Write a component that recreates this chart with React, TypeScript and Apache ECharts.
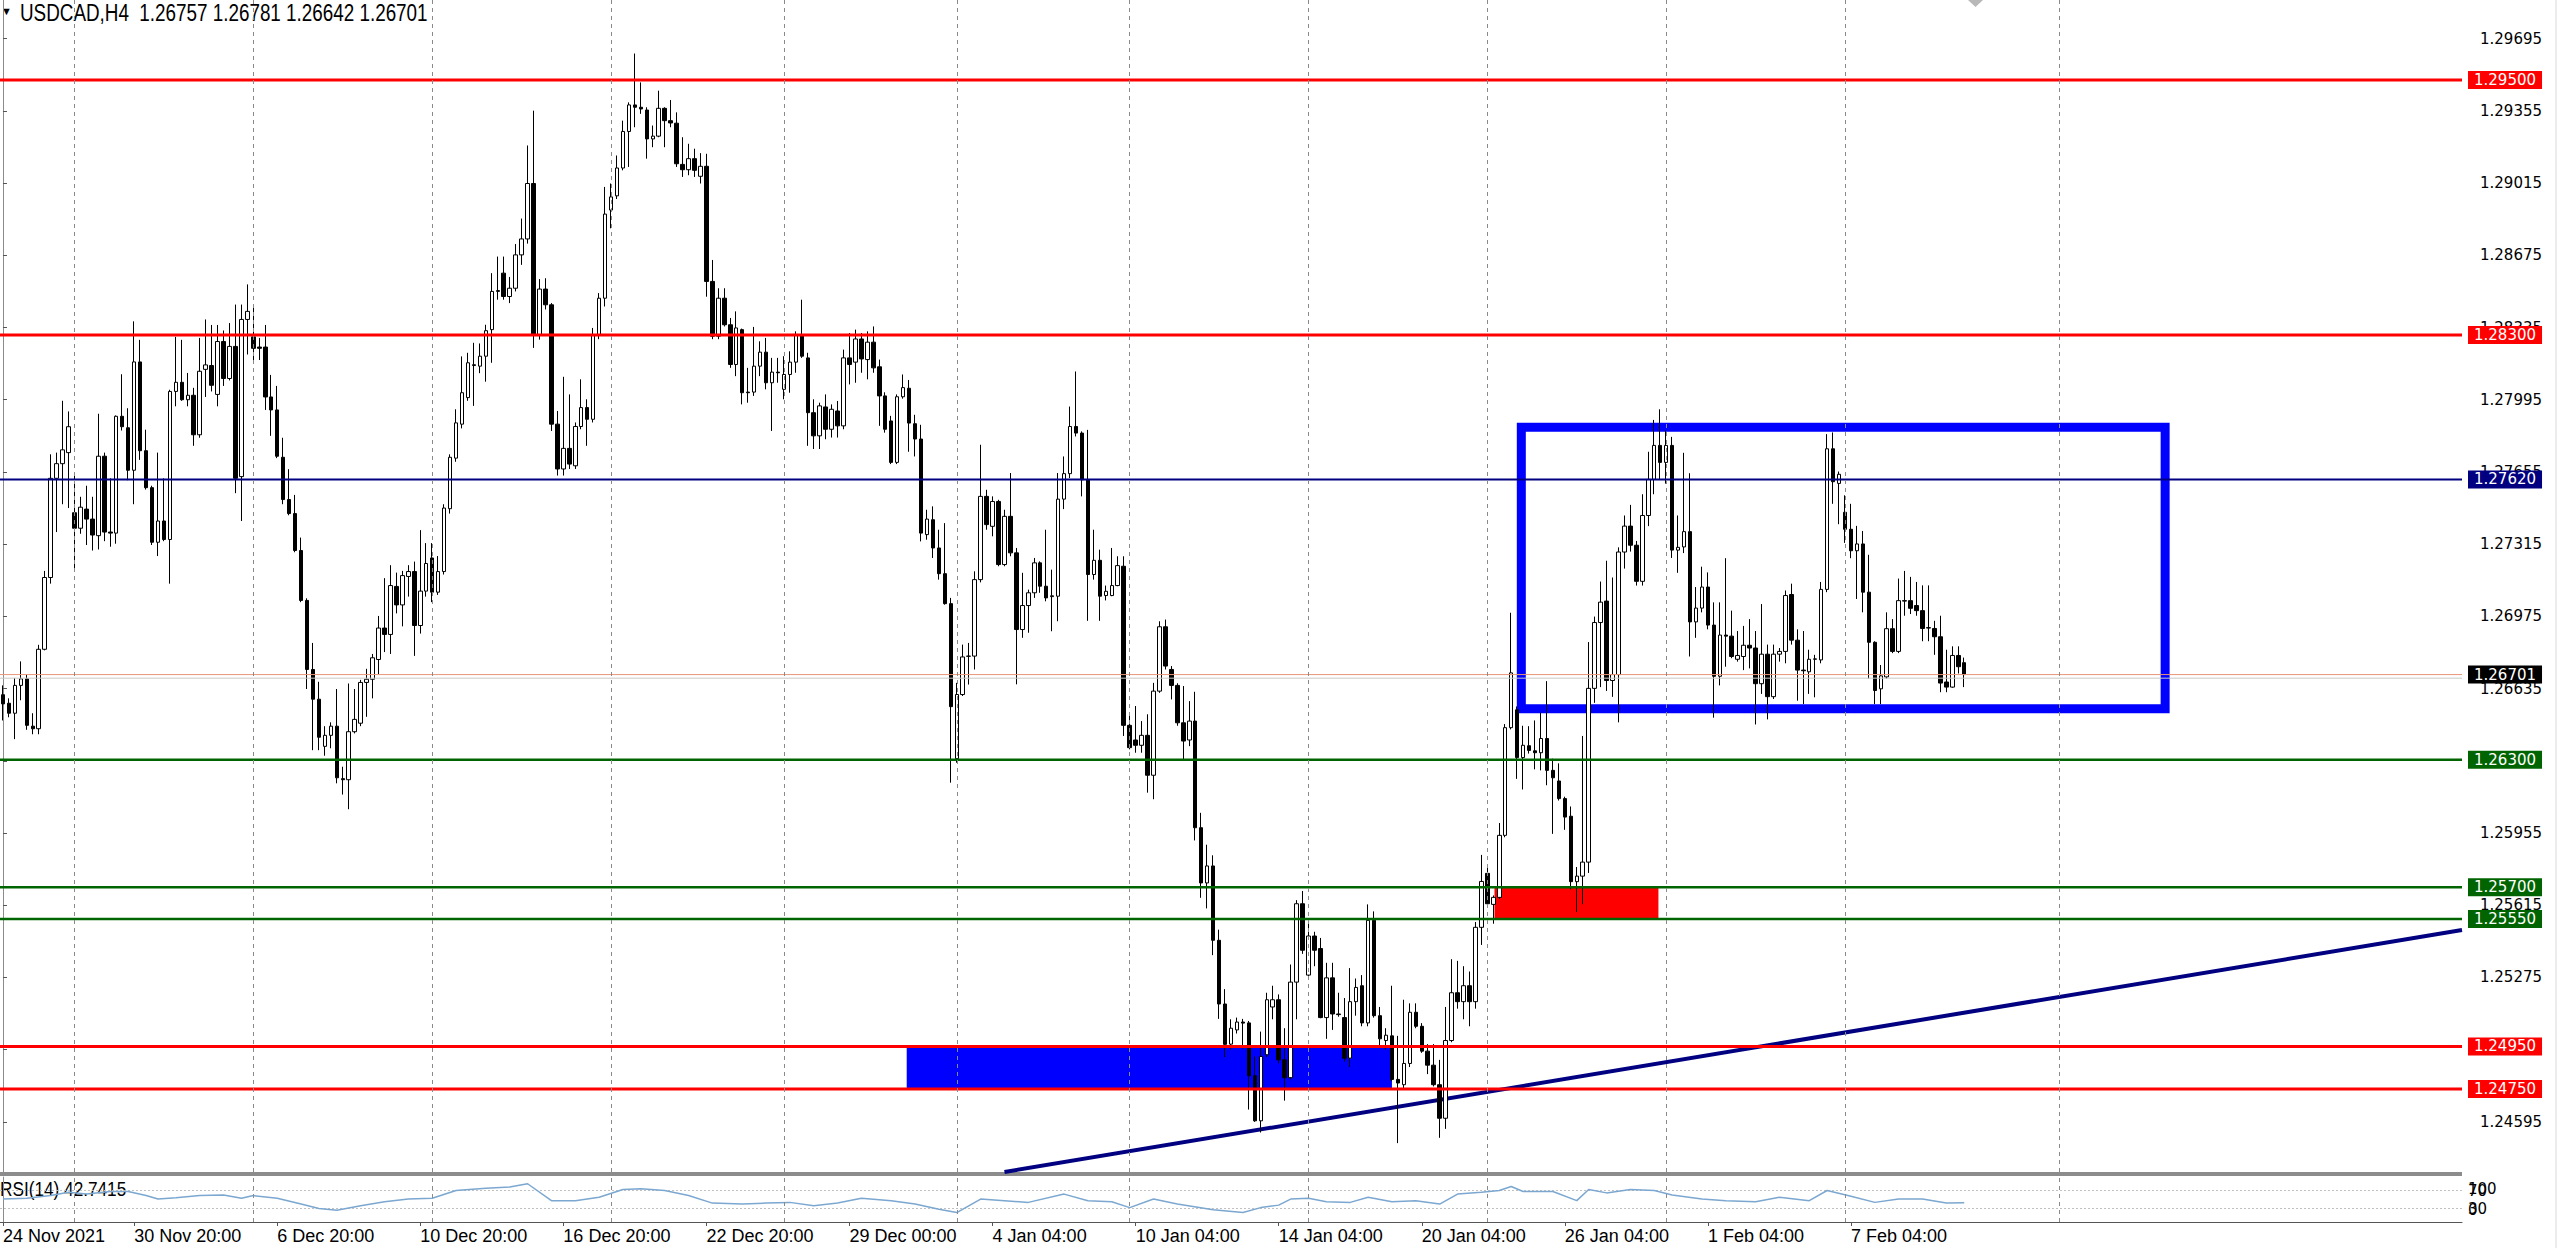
import React, { useEffect, useRef } from 'react';
import * as echarts from 'echarts';

// ---------- DATA ----------
const opens = [
  1.26606, 1.26566, 1.26519, 1.26650, 1.26681, 1.26458, 1.26446, 1.26820, 1.27158, 1.27625,
  1.27694, 1.27746, 1.27463, 1.27390, 1.27480, 1.27433, 1.27355, 1.27729, 1.27372, 1.27367,
  1.27917, 1.27863, 1.27663, 1.28173, 1.27755, 1.27581, 1.27324, 1.27424, 1.27337, 1.28034,
  1.28077, 1.27995, 1.28016, 1.27830, 1.28138, 1.28156, 1.28020, 1.28269, 1.28095, 1.28246,
  1.27633, 1.28373, 1.28291, 1.28243, 1.28243, 1.28008, 1.27947, 1.27724, 1.27525, 1.27459,
  1.27285, 1.27050, 1.26725, 1.26585, 1.26363, 1.26415, 1.26458, 1.26211, 1.26206, 1.26432,
  1.26472, 1.26664, 1.26679, 1.26772, 1.26920, 1.26890, 1.27116, 1.27029, 1.27163, 1.27186,
  1.26932, 1.27094, 1.27250, 1.27089, 1.27186, 1.27482, 1.27720, 1.27880, 1.28005, 1.28156,
  1.28153, 1.28200, 1.28325, 1.28505, 1.28591, 1.28481, 1.28520, 1.28677, 1.28752, 1.29013,
  1.28302, 1.28516, 1.28442, 1.27880, 1.27669, 1.27766, 1.27684, 1.27869, 1.27958, 1.27903,
  1.28302, 1.28473, 1.28888, 1.28955, 1.29086, 1.29258, 1.29383, 1.29372, 1.29359, 1.29223,
  1.29236, 1.29367, 1.29309, 1.29297, 1.29103, 1.29078, 1.29130, 1.29047, 1.29094, 1.28552,
  1.28294, 1.28473, 1.28348, 1.28161, 1.28325, 1.28031, 1.28031, 1.28153, 1.28219, 1.28075,
  1.28125, 1.28044, 1.28114, 1.28172, 1.28302, 1.28192, 1.27934, 1.27825, 1.27961, 1.27856,
  1.27942, 1.27872, 1.28192, 1.28172, 1.28281, 1.28184, 1.28266, 1.28150, 1.28013, 1.27895,
  1.27700, 1.28009, 1.28049, 1.27882, 1.27810, 1.27360, 1.27430, 1.27297, 1.27176, 1.27035,
  1.26305, 1.26607, 1.26787, 1.26788, 1.27148, 1.27540, 1.27399, 1.27516, 1.27219, 1.27446,
  1.27274, 1.26913, 1.27026, 1.27086, 1.27227, 1.27117, 1.27068, 1.27070, 1.27527, 1.27647,
  1.27869, 1.27838, 1.27618, 1.27172, 1.27239, 1.27073, 1.27073, 1.27120, 1.27211, 1.26462,
  1.26393, 1.26368, 1.26415, 1.26227, 1.26623, 1.26926, 1.26725, 1.26650, 1.26474, 1.26393,
  1.26482, 1.25980, 1.25720, 1.25800, 1.25450, 1.25150, 1.24961, 1.25028, 1.25065, 1.25061,
  1.24812, 1.24600, 1.24911, 1.25136, 1.25170, 1.24887, 1.24803, 1.25253, 1.25622, 1.25286,
  1.25470, 1.25411, 1.25086, 1.25273, 1.25103, 1.25086, 1.24895, 1.25161, 1.25236, 1.25061,
  1.25544, 1.25095, 1.24978, 1.25000, 1.24795, 1.24770, 1.24870, 1.25111, 1.25045, 1.24928,
  1.24862, 1.24770, 1.24612, 1.24978, 1.25203, 1.25161, 1.25236, 1.25161, 1.25511, 1.25765,
  1.25619, 1.25652, 1.25944, 1.26451, 1.26535, 1.26310, 1.26366, 1.26342, 1.26333, 1.26400,
  1.26250, 1.26200, 1.26117, 1.26034, 1.25726, 1.25752, 1.25818, 1.26636, 1.26946, 1.27047,
  1.26673, 1.26701, 1.27278, 1.27400, 1.27310, 1.27140, 1.27450, 1.27620, 1.27780, 1.27700,
  1.27780, 1.27287, 1.27302, 1.27374, 1.26949, 1.27014, 1.27113, 1.26934, 1.26693, 1.26887,
  1.26882, 1.26773, 1.26786, 1.26839, 1.26826, 1.26658, 1.26797, 1.26597, 1.26797, 1.26810,
  1.27078, 1.26863, 1.26722, 1.26714, 1.26773, 1.26770, 1.27102, 1.27764, 1.27601, 1.27465,
  1.27385, 1.27284, 1.27316, 1.27089, 1.26853, 1.26634, 1.26690, 1.26917, 1.26810, 1.27049,
  1.27049, 1.27026, 1.27002, 1.26922, 1.26918, 1.26879, 1.26666, 1.26642, 1.26791, 1.26757,
];

const closes = [
  1.26563, 1.26519, 1.26650, 1.26681, 1.26462, 1.26446, 1.26820, 1.27158, 1.27625, 1.27694,
  1.27759, 1.27868, 1.27390, 1.27489, 1.27433, 1.27358, 1.27729, 1.27372, 1.27367, 1.27917,
  1.27868, 1.27663, 1.28173, 1.27755, 1.27581, 1.27324, 1.27424, 1.27337, 1.28034, 1.28077,
  1.27995, 1.28016, 1.27830, 1.28129, 1.28159, 1.28063, 1.28269, 1.28095, 1.28246, 1.27625,
  1.28373, 1.28411, 1.28237, 1.28237, 1.28008, 1.27947, 1.27729, 1.27525, 1.27459, 1.27285,
  1.27050, 1.26725, 1.26585, 1.26406, 1.26415, 1.26458, 1.26215, 1.26206, 1.26432, 1.26490,
  1.26664, 1.26679, 1.26780, 1.26920, 1.26890, 1.27120, 1.27029, 1.27167, 1.27186, 1.26932,
  1.27094, 1.27224, 1.27089, 1.27186, 1.27485, 1.27724, 1.27886, 1.28028, 1.28169, 1.28160,
  1.28200, 1.28320, 1.28505, 1.28509, 1.28481, 1.28520, 1.28677, 1.28752, 1.29013, 1.28302,
  1.28516, 1.28442, 1.27880, 1.27669, 1.27766, 1.27692, 1.27869, 1.27958, 1.27903, 1.28302,
  1.28473, 1.28869, 1.28950, 1.29086, 1.29258, 1.29383, 1.29372, 1.29364, 1.29223, 1.29236,
  1.29367, 1.29309, 1.29298, 1.29106, 1.29078, 1.29130, 1.29075, 1.29094, 1.28552, 1.28294,
  1.28473, 1.28348, 1.28161, 1.28333, 1.28028, 1.28028, 1.28153, 1.28219, 1.28075, 1.28125,
  1.28122, 1.28114, 1.28172, 1.28302, 1.28200, 1.27934, 1.27825, 1.27966, 1.27856, 1.27950,
  1.27872, 1.28192, 1.28161, 1.28281, 1.28187, 1.28266, 1.28145, 1.28013, 1.27856, 1.27700,
  1.28009, 1.28052, 1.27885, 1.27810, 1.27367, 1.27433, 1.27297, 1.27176, 1.27035, 1.26550,
  1.26607, 1.26784, 1.26788, 1.27148, 1.27540, 1.27407, 1.27516, 1.27219, 1.27446, 1.27274,
  1.26913, 1.27026, 1.27086, 1.27227, 1.27117, 1.27062, 1.27072, 1.27527, 1.27647, 1.27869,
  1.27838, 1.27618, 1.27172, 1.27239, 1.27070, 1.27093, 1.27120, 1.27214, 1.26462, 1.26357,
  1.26368, 1.26415, 1.26227, 1.26623, 1.26926, 1.26741, 1.26650, 1.26474, 1.26388, 1.26482,
  1.25980, 1.25720, 1.25800, 1.25450, 1.25150, 1.24960, 1.25036, 1.25065, 1.25060, 1.24812,
  1.24600, 1.24903, 1.25170, 1.25170, 1.24887, 1.24803, 1.25253, 1.25622, 1.25403, 1.25470,
  1.25403, 1.25086, 1.25273, 1.25103, 1.25100, 1.24895, 1.25161, 1.25228, 1.25061, 1.25544,
  1.25095, 1.24986, 1.25003, 1.24795, 1.24778, 1.24870, 1.25111, 1.25045, 1.24928, 1.24862,
  1.24770, 1.24612, 1.24978, 1.25203, 1.25161, 1.25236, 1.25161, 1.25511, 1.25727, 1.25622,
  1.25652, 1.25944, 1.26451, 1.26709, 1.26310, 1.26368, 1.26344, 1.26333, 1.26400, 1.26250,
  1.26215, 1.26117, 1.26030, 1.25726, 1.25752, 1.25818, 1.26636, 1.26946, 1.27042, 1.26673,
  1.26701, 1.27278, 1.27400, 1.27310, 1.27140, 1.27450, 1.27620, 1.27780, 1.27700, 1.27780,
  1.27287, 1.27300, 1.27374, 1.26949, 1.27014, 1.27113, 1.26934, 1.26693, 1.26887, 1.26882,
  1.26786, 1.26791, 1.26839, 1.26826, 1.26658, 1.26797, 1.26597, 1.26797, 1.26810, 1.27073,
  1.26863, 1.26722, 1.26719, 1.26773, 1.26775, 1.27102, 1.27764, 1.27609, 1.27644, 1.27385,
  1.27284, 1.27316, 1.27089, 1.26853, 1.26626, 1.26695, 1.26917, 1.26810, 1.27049, 1.27047,
  1.27013, 1.27002, 1.26918, 1.26920, 1.26879, 1.26661, 1.26642, 1.26791, 1.26738, 1.26701,
];

const highs = [
  1.26650, 1.26589, 1.26685, 1.26763, 1.26700, 1.26519, 1.26841, 1.27189, 1.27738, 1.27746,
  1.27990, 1.27940, 1.27642, 1.27538, 1.27590, 1.27538, 1.27929, 1.27746, 1.27625, 1.27921,
  1.28115, 1.27955, 1.28364, 1.28277, 1.27854, 1.27590, 1.27746, 1.27625, 1.28042, 1.28291,
  1.28277, 1.28121, 1.28051, 1.28286, 1.28373, 1.28347, 1.28347, 1.28321, 1.28356, 1.28443,
  1.28443, 1.28538, 1.28434, 1.28286, 1.28347, 1.28112, 1.28060, 1.27816, 1.27668, 1.27547,
  1.27346, 1.27060, 1.26850, 1.26667, 1.26458, 1.26476, 1.26633, 1.26267, 1.26659, 1.26633,
  1.26676, 1.26728, 1.26798, 1.26977, 1.27155, 1.27216, 1.27181, 1.27189, 1.27216, 1.27233,
  1.27381, 1.27320, 1.27320, 1.27259, 1.27503, 1.27738, 1.27950, 1.28199, 1.28216, 1.28263,
  1.28260, 1.28348, 1.28591, 1.28669, 1.28669, 1.28573, 1.28728, 1.28848, 1.29192, 1.29356,
  1.28563, 1.28567, 1.28450, 1.27942, 1.28103, 1.28020, 1.27888, 1.28091, 1.27997, 1.28333,
  1.28497, 1.28997, 1.29013, 1.29145, 1.29309, 1.29395, 1.29625, 1.29489, 1.29372, 1.29286,
  1.29450, 1.29372, 1.29406, 1.29348, 1.29231, 1.29200, 1.29177, 1.29156, 1.29153, 1.28653,
  1.28520, 1.28520, 1.28380, 1.28411, 1.28330, 1.28145, 1.28338, 1.28270, 1.28286, 1.28192,
  1.28192, 1.28200, 1.28223, 1.28317, 1.28466, 1.28216, 1.27997, 1.27981, 1.28020, 1.27973,
  1.27989, 1.28231, 1.28309, 1.28325, 1.28309, 1.28317, 1.28340, 1.28184, 1.28030, 1.27919,
  1.28020, 1.28114, 1.28088, 1.27924, 1.27877, 1.27477, 1.27493, 1.27383, 1.27414, 1.27062,
  1.26662, 1.26842, 1.26850, 1.27187, 1.27783, 1.27571, 1.27540, 1.27524, 1.27477, 1.27650,
  1.27297, 1.27180, 1.27101, 1.27250, 1.27234, 1.27383, 1.27195, 1.27650, 1.27728, 1.27963,
  1.28128, 1.27846, 1.27853, 1.27383, 1.27289, 1.27120, 1.27297, 1.27258, 1.27258, 1.26506,
  1.26553, 1.26482, 1.26514, 1.26662, 1.26952, 1.26960, 1.26741, 1.26660, 1.26647, 1.26576,
  1.26620, 1.26050, 1.25900, 1.25850, 1.25500, 1.25220, 1.25078, 1.25086, 1.25080, 1.25070,
  1.24903, 1.25020, 1.25203, 1.25236, 1.25195, 1.25036, 1.25336, 1.25639, 1.25682, 1.25536,
  1.25490, 1.25461, 1.25344, 1.25344, 1.25203, 1.25178, 1.25319, 1.25270, 1.25286, 1.25619,
  1.25586, 1.25136, 1.25036, 1.25236, 1.25000, 1.25170, 1.25153, 1.25153, 1.25060, 1.24961,
  1.24961, 1.24887, 1.25136, 1.25361, 1.25353, 1.25328, 1.25303, 1.25536, 1.25852, 1.25794,
  1.25661, 1.26002, 1.26468, 1.26992, 1.26551, 1.26460, 1.26458, 1.26485, 1.26522, 1.26670,
  1.26305, 1.26283, 1.26126, 1.26080, 1.25795, 1.26412, 1.26854, 1.26974, 1.27139, 1.27237,
  1.27158, 1.27300, 1.27450, 1.27500, 1.27330, 1.27550, 1.27750, 1.27900, 1.27950, 1.27850,
  1.27820, 1.27450, 1.27745, 1.27649, 1.27113, 1.27209, 1.27182, 1.27041, 1.27041, 1.27249,
  1.27002, 1.26906, 1.26930, 1.26962, 1.26906, 1.27033, 1.26842, 1.26842, 1.26826, 1.27097,
  1.27129, 1.26914, 1.26906, 1.26818, 1.26794, 1.27137, 1.27833, 1.27841, 1.27657, 1.27545,
  1.27505, 1.27401, 1.27377, 1.27265, 1.26858, 1.26746, 1.26994, 1.26962, 1.27153, 1.27189,
  1.27161, 1.27137, 1.27121, 1.27121, 1.26954, 1.26978, 1.26818, 1.26834, 1.26834, 1.26781,
];

const lows = [
  1.26485, 1.26500, 1.26397, 1.26580, 1.26441, 1.26420, 1.26420, 1.26815, 1.27129, 1.27372,
  1.27503, 1.27485, 1.27198, 1.27364, 1.27311, 1.27285, 1.27290, 1.27329, 1.27303, 1.27317,
  1.27850, 1.27616, 1.27503, 1.27712, 1.27572, 1.27311, 1.27259, 1.27329, 1.27129, 1.27964,
  1.27990, 1.27964, 1.27778, 1.27816, 1.28008, 1.28034, 1.27964, 1.28060, 1.28086, 1.27555,
  1.27424, 1.28208, 1.28182, 1.28182, 1.27947, 1.27825, 1.27720, 1.27503, 1.27451, 1.27277,
  1.27042, 1.26633, 1.26345, 1.26345, 1.26319, 1.26354, 1.26189, 1.26136, 1.26067, 1.26424,
  1.26458, 1.26502, 1.26589, 1.26702, 1.26807, 1.26798, 1.26989, 1.26928, 1.27068, 1.26789,
  1.26894, 1.27068, 1.27042, 1.27076, 1.27172, 1.27459, 1.27703, 1.27860, 1.27990, 1.27966,
  1.28120, 1.28080, 1.28169, 1.28466, 1.28466, 1.28450, 1.28505, 1.28630, 1.28730, 1.28239,
  1.28278, 1.28420, 1.27848, 1.27638, 1.27638, 1.27669, 1.27669, 1.27856, 1.27778, 1.27888,
  1.28280, 1.28434, 1.28802, 1.28940, 1.29075, 1.29091, 1.29278, 1.29341, 1.29130, 1.29184,
  1.29231, 1.29184, 1.29278, 1.29091, 1.29044, 1.29052, 1.29044, 1.29013, 1.28480, 1.28280,
  1.28280, 1.28340, 1.28145, 1.28106, 1.27973, 1.27981, 1.28013, 1.28106, 1.28044, 1.27848,
  1.28075, 1.27997, 1.28028, 1.28122, 1.28192, 1.27778, 1.27763, 1.27763, 1.27809, 1.27817,
  1.27817, 1.27856, 1.28067, 1.28075, 1.28122, 1.28091, 1.28122, 1.27872, 1.27840, 1.27692,
  1.27692, 1.28000, 1.27750, 1.27728, 1.27328, 1.27336, 1.27250, 1.27148, 1.27030, 1.26192,
  1.26286, 1.26600, 1.26654, 1.26725, 1.27135, 1.27383, 1.27352, 1.27211, 1.27211, 1.27258,
  1.26655, 1.26874, 1.26898, 1.27062, 1.27086, 1.27046, 1.26905, 1.26952, 1.27480, 1.27626,
  1.27822, 1.27540, 1.26954, 1.27148, 1.26954, 1.27050, 1.27070, 1.27117, 1.26412, 1.26349,
  1.26333, 1.26333, 1.26145, 1.26114, 1.26615, 1.26725, 1.26584, 1.26460, 1.26294, 1.26364,
  1.25920, 1.25650, 1.25600, 1.25380, 1.25080, 1.24900, 1.24936, 1.25011, 1.24940, 1.24653,
  1.24595, 1.24545, 1.24900, 1.25078, 1.24870, 1.24695, 1.24795, 1.25078, 1.25386, 1.25278,
  1.25328, 1.25083, 1.24986, 1.25028, 1.25090, 1.24878, 1.24853, 1.25095, 1.25045, 1.25045,
  1.25086, 1.24953, 1.24936, 1.24787, 1.24495, 1.24753, 1.24853, 1.25036, 1.24920, 1.24820,
  1.24762, 1.24520, 1.24562, 1.24970, 1.25128, 1.25078, 1.25045, 1.25128, 1.25428, 1.25619,
  1.25528, 1.25644, 1.25935, 1.26443, 1.26210, 1.26160, 1.26329, 1.26255, 1.26250, 1.26180,
  1.25951, 1.26108, 1.25970, 1.25690, 1.25583, 1.25620, 1.25767, 1.26568, 1.26642, 1.26624,
  1.26596, 1.26476, 1.27200, 1.27280, 1.27120, 1.27120, 1.27400, 1.27550, 1.27620, 1.27600,
  1.27250, 1.27180, 1.27273, 1.26786, 1.26874, 1.26994, 1.26914, 1.26498, 1.26650, 1.26738,
  1.26778, 1.26762, 1.26722, 1.26730, 1.26466, 1.26610, 1.26490, 1.26586, 1.26762, 1.26754,
  1.26842, 1.26578, 1.26562, 1.26610, 1.26594, 1.26754, 1.27089, 1.27505, 1.27409, 1.27321,
  1.27249, 1.27057, 1.26994, 1.26682, 1.26562, 1.26562, 1.26682, 1.26802, 1.26802, 1.26978,
  1.26986, 1.26978, 1.26858, 1.26858, 1.26794, 1.26618, 1.26618, 1.26639, 1.26706, 1.26642,
];

// RSI(14) read at sample bars
const rsiBars = [
  0, 4, 8, 11, 14, 18, 21, 24, 26, 29, 33, 37, 40, 42, 46, 50, 53, 56, 60, 64,
  68, 72, 76, 81, 85, 88, 92, 96, 100, 104, 107, 111, 115, 119, 124, 128, 132, 136, 140, 144,
  149, 153, 157, 160, 164, 168, 172, 178, 182, 186, 189, 193, 197, 203, 208, 211, 214, 216, 219, 222,
  226, 229, 233, 237, 241, 244, 248, 251, 253, 255, 260, 264, 266, 269, 273, 277, 280, 285, 289, 294,
  298, 303, 306, 310, 314, 318, 322, 326, 329,
];
const rsiValues = [
  51, 52.6, 58.7, 66, 62, 67.7, 67.7, 58.7, 51, 54, 58.7, 60, 52.6, 58.7, 52.6, 39.8, 30, 26, 36, 45,
  51, 52.6, 70, 75, 77.6, 85, 47.4, 47.4, 55, 72.3, 73.8, 70, 58.7, 42, 39.8, 42, 43.6, 36, 42, 52.6,
  47.4, 39.8, 28.5, 21, 51, 47.4, 43.6, 62, 47.4, 45, 32, 51, 39.8, 27, 21, 32, 37.5, 51, 52.6, 45,
  43.6, 55, 45, 47.4, 39.8, 62, 66, 70, 79, 67.7, 67.7, 47.4, 72.3, 64.7, 72.3, 70, 60, 51, 47.4, 45,
  55, 47.4, 70, 57, 43.6, 51, 51, 42, 42.7415,
];

const timeLabelBars = [0, 22, 46, 70, 94, 118, 142, 166, 190, 214, 238, 262, 286, 310];
const timeLabelTexts = [
  '24 Nov 2021', '30 Nov 20:00', '6 Dec 20:00', '10 Dec 20:00', '16 Dec 20:00', '22 Dec 20:00',
  '29 Dec 00:00', '4 Jan 04:00', '10 Jan 04:00', '14 Jan 04:00', '20 Jan 04:00', '26 Jan 04:00',
  '1 Feb 04:00', '7 Feb 04:00',
];
const priceTicks = [
  1.29695, 1.29355, 1.29015, 1.28675, 1.28335, 1.27995, 1.27655, 1.27315,
  1.26975, 1.26635, 1.26295, 1.25955, 1.25615, 1.25275, 1.24935, 1.24595,
];
const rsiInnerTicks = [30, 70];
const rsiOuterTicks = [0, 100];
const rsiLevels = [70, 30];

const levelPrices = [1.295, 1.283, 1.2762, 1.263, 1.257, 1.2555, 1.2495, 1.2475];
const levelColors = ['#FF0000', '#FF0000', '#000080', '#006400', '#006400', '#006400', '#FF0000', '#FF0000'];
const levelWidths = [3, 3, 2, 2.5, 2.5, 2.5, 3, 3];
const bidPrice = 1.26701;
const askLinePrice = 1.26684;

const gridBars = [12, 42, 72, 102, 131, 160, 189, 219, 249, 279, 309, 345];

// objects: [x1 bar, x2 bar, price1, price2]
const blueZone = [151.6, 233, 1.2495, 1.2475];
const redZone = [250.2, 277.7, 1.257, 1.2555];
const rangeBox = [254.7, 362.7, 1.27865, 1.2654];
const trendX = [168, 412.5];
const trendY = [1.24359, 1.25498];

const Y_MIN = 1.24359;
const Y_MAX = 1.29877;
const N_SLOTS = 413;
const X_LEFT = -0.5;
const X_RIGHT = N_SLOTS - 0.5;

const SANS = "'Liberation Sans', Arial, sans-serif";
const AXISFONT = "'DejaVu Sans', Verdana, sans-serif";

export default function App() {
  const ref = useRef<HTMLDivElement>(null);

  useEffect(() => {
    document.body.style.margin = '0';
    document.body.style.overflow = 'hidden';
    if (!ref.current) return;
    const chart = echarts.init(ref.current, undefined, { renderer: 'svg' });

    const cats = Array.from({ length: N_SLOTS }, (_, i) => String(i));
    const candles = opens.map((o, i) => [o, closes[i], lows[i], highs[i]]);
    const rsiData = rsiBars.map((b, i) => [b, rsiValues[i]]);
    const last = opens.length - 1;

    const priceLabel = (bg: string, text: string) => ({
      show: true,
      formatter: text,
      backgroundColor: bg,
      color: '#ffffff',
      fontFamily: AXISFONT,
      fontSize: 15,
      lineHeight: 18,
      padding: [0, 6, 0, 6],
      distance: 6,
      align: 'left',
      verticalAlign: 'middle',
    });

    const levelSeries: any[] = levelPrices.map((p, i) => ({
      name: 'level' + i,
      type: 'line',
      xAxisIndex: 1,
      yAxisIndex: 0,
      z: 3,
      silent: true,
      showSymbol: false,
      symbol: 'none',
      clip: false,
      data: [[X_LEFT, p], [X_RIGHT, p]],
      lineStyle: { color: levelColors[i], width: levelWidths[i] },
      endLabel: priceLabel(levelColors[i], p.toFixed(5)),
    }));
    levelSeries.push({
      name: 'askline', type: 'line', xAxisIndex: 1, yAxisIndex: 0, z: 3,
      silent: true, showSymbol: false, symbol: 'none',
      data: [[X_LEFT, askLinePrice], [X_RIGHT, askLinePrice]],
      lineStyle: { color: '#C8C8C8', width: 1 },
    });
    levelSeries.push({
      name: 'bid', type: 'line', xAxisIndex: 1, yAxisIndex: 0, z: 3,
      silent: true, showSymbol: false, symbol: 'none', clip: false,
      data: [[X_LEFT, bidPrice], [X_RIGHT, bidPrice]],
      lineStyle: { color: '#E9967A', width: 1 },
      endLabel: priceLabel('#000000', bidPrice.toFixed(5)),
    });

    const rsiLevelSeries = rsiLevels.map((v) => ({
      name: 'rsi' + v, type: 'line', xAxisIndex: 2, yAxisIndex: 1, z: 1,
      silent: true, showSymbol: false, symbol: 'none',
      data: [[X_LEFT, v], [X_RIGHT, v]],
      lineStyle: { color: '#C0C0C0', width: 1, type: [2, 2] },
    }));

    const option: any = {
      animation: false,
      backgroundColor: '#ffffff',
      grid: [
        { left: 0, top: 0, width: 2462, height: 1172, containLabel: false },
        { left: 0, top: 1177, width: 2462, height: 45, containLabel: false },
      ],
      xAxis: [
        { type: 'category', gridIndex: 0, data: cats, boundaryGap: true, show: false },
        { type: 'value', gridIndex: 0, min: X_LEFT, max: X_RIGHT, show: false },
        {
          type: 'value', gridIndex: 1, min: X_LEFT, max: X_RIGHT,
          axisLine: { show: true, onZero: false, lineStyle: { color: '#555555', width: 1 } },
          axisTick: { show: true, length: 4, customValues: timeLabelBars, lineStyle: { color: '#555555' } },
          axisLabel: {
            show: true,
            customValues: timeLabelBars,
            align: 'left',
            margin: 5,
            color: '#000000',
            fontFamily: SANS,
            fontSize: 18,
            formatter: (v: number) => {
              const k = timeLabelBars.indexOf(v);
              return k >= 0 ? timeLabelTexts[k] : '';
            },
          },
          splitLine: { show: false },
        },
      ],
      yAxis: [
        {
          type: 'value', gridIndex: 0, position: 'right', min: Y_MIN, max: Y_MAX,
          axisLine: { show: true, lineStyle: { color: '#8c8c8c', width: 1 } },
          axisTick: { show: true, length: 4, customValues: priceTicks, lineStyle: { color: '#555555' } },
          axisLabel: {
            show: true, customValues: priceTicks, margin: 18, color: '#000000',
            fontFamily: AXISFONT, fontSize: 15,
            formatter: (v: number) => v.toFixed(5),
          },
          splitLine: { show: false },
        },
        {
          type: 'value', gridIndex: 1, position: 'right', offset: 0, min: 0, max: 100,
          axisLine: { show: true, lineStyle: { color: '#8c8c8c', width: 1 } },
          axisTick: { show: false },
          axisLabel: {
            show: true, customValues: rsiInnerTicks, margin: 6, color: '#000000',
            fontFamily: AXISFONT, fontSize: 15,
            formatter: (v: number) => String(v),
          },
          splitLine: { show: false },
        },
        {
          type: 'value', gridIndex: 1, position: 'right', offset: 0, min: 0, max: 100,
          axisLine: { show: false },
          axisTick: { show: false },
          axisLabel: {
            show: true, customValues: rsiOuterTicks, margin: 6, color: '#000000',
            showMinLabel: true, showMaxLabel: true,
            fontFamily: AXISFONT, fontSize: 15,
            formatter: (v: number) => (v === 100 ? '{a|100}' : '{c|0}'),
            rich: {
              a: { padding: [24, 0, 0, 0], fontFamily: AXISFONT, fontSize: 15, color: '#000' },
              c: { padding: [0, 0, 24, 0], fontFamily: AXISFONT, fontSize: 15, color: '#000' },
            },
          },
          splitLine: { show: false },
        },
      ],
      graphic: [
        { type: 'text', left: 1, top: 5, style: { text: '▼', fontSize: 11, fill: '#000000' } },
        {
          type: 'text', x: 20, y: 1, scaleX: 0.82,
          style: {
            text: `USDCAD,H4  ${opens[last].toFixed(5)} ${highs[last].toFixed(5)} ${lows[last].toFixed(5)} ${closes[last].toFixed(5)}`,
            fontFamily: SANS, fontSize: 23, fill: '#000000',
          },
        },
        {
          type: 'text', x: 0, y: 1178, scaleX: 0.82,
          style: { text: `RSI(14) ${rsiValues[rsiValues.length - 1]}`, fontFamily: SANS, fontSize: 21, fill: '#000000' },
        },
        { type: 'rect', shape: { x: 0, y: 1172, width: 2462, height: 4 }, style: { fill: '#8c8c8c' } },
        { type: 'polygon', shape: { points: [[1968, 0], [1983, 0], [1975.5, 7]] }, style: { fill: '#b8b8b8' } },
        { type: 'line', shape: { x1: 2556, y1: 0, x2: 2556, y2: 1248 }, style: { stroke: '#d8d8d8', lineWidth: 1 } },
      ],
      series: [
        {
          name: 'objects', type: 'line', xAxisIndex: 1, yAxisIndex: 0, z: 1,
          data: [], showSymbol: false, silent: true,
          markLine: {
            silent: true, symbol: ['none', 'none'], animation: false,
            label: { show: false },
            lineStyle: { color: '#8a8a8a', width: 1, type: [4, 4] },
            data: gridBars.map((b) => ({ xAxis: b })),
          },
          markArea: {
            silent: true, animation: false,
            data: [
              [
                { xAxis: blueZone[0], yAxis: blueZone[2], itemStyle: { color: '#0000FF' } },
                { xAxis: blueZone[1], yAxis: blueZone[3] },
              ],
              [
                { xAxis: redZone[0], yAxis: redZone[2], itemStyle: { color: '#FF0000' } },
                { xAxis: redZone[1], yAxis: redZone[3] },
              ],
              [
                {
                  xAxis: rangeBox[0], yAxis: rangeBox[2],
                  itemStyle: { color: 'rgba(0,0,0,0)', borderColor: '#0000FF', borderWidth: 9 },
                },
                { xAxis: rangeBox[1], yAxis: rangeBox[3] },
              ],
            ],
          },
        },
        {
          name: 'trend', type: 'line', xAxisIndex: 1, yAxisIndex: 0, z: 1,
          data: trendX.map((x, i) => [x, trendY[i]]),
          showSymbol: false, symbol: 'none', silent: true,
          lineStyle: { color: '#000080', width: 4 },
        },
        {
          name: 'USDCAD', type: 'candlestick', xAxisIndex: 0, yAxisIndex: 0, z: 2,
          data: candles, barWidth: 4, silent: true,
          itemStyle: {
            color: '#ffffff', color0: '#000000',
            borderColor: '#000000', borderColor0: '#000000', borderWidth: 1,
          },
        },
        ...levelSeries,
        ...rsiLevelSeries,
        {
          name: 'RSI', type: 'line', xAxisIndex: 2, yAxisIndex: 1, z: 2,
          data: rsiData, showSymbol: false, symbol: 'none', silent: true,
          lineStyle: { color: '#7BA7D0', width: 1.5 },
          markLine: {
            silent: true, symbol: ['none', 'none'], animation: false,
            label: { show: false },
            lineStyle: { color: '#8a8a8a', width: 1, type: [4, 4] },
            data: gridBars.map((b) => ({ xAxis: b })),
          },
        },
      ],
    };

    chart.setOption(option);
    return () => {
      chart.dispose();
    };
  }, []);

  return <div ref={ref} style={{ width: 2560, height: 1248 }} />;
}
